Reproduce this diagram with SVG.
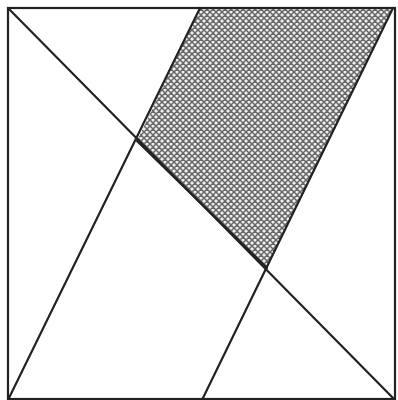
<svg xmlns="http://www.w3.org/2000/svg" width="398" height="400" viewBox="0 0 398 400">
<defs>
<pattern id="hatch" width="6" height="6" patternUnits="userSpaceOnUse">
<rect width="6" height="6" fill="#eee"/>
<path d="M0,0 L6,6 M6,0 L0,6 M-3,3 L3,-3 M3,9 L9,3 M-3,3 L3,9 M3,-3 L9,3" stroke="#666" stroke-width="1.5"/>
</pattern>
<style>.ln{stroke:#222;stroke-width:2.2;fill:none;stroke-linecap:round}</style>
</defs>
<rect width="398" height="400" fill="#fff"/>
<g id="shaded">
<polygon points="200,8 393,8 267,268 137,141" fill="url(#hatch)"/>
</g>
<g id="lines">
<rect x="8" y="8" width="387" height="391" class="ln"/>
<line x1="8" y1="8" x2="395" y2="400" class="ln"/>
<line x1="8" y1="400" x2="200" y2="8" class="ln"/>
<line x1="202" y1="400" x2="393" y2="8" class="ln"/>
<line x1="137" y1="141" x2="267" y2="268" class="ln" stroke-width="3"/>
</g>
</svg>
